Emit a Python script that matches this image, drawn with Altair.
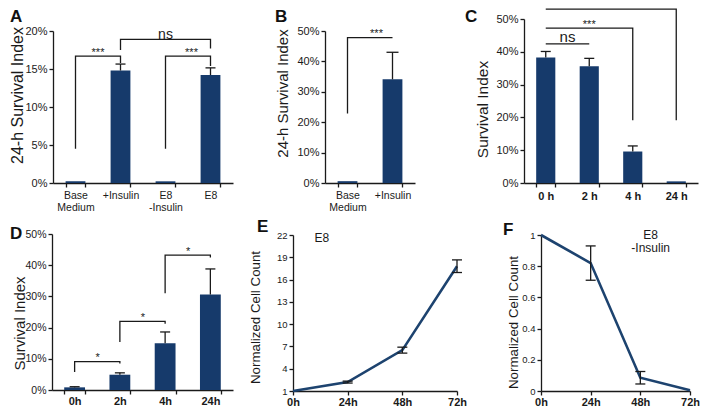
import altair as alt
import pandas as pd

FONT = "Liberation Sans"
NAVY = "#163a6b"
LINE_C = "#1d436f"
INK = "#1a1a1a"
W, H = 693, 400

# ---------------- data ----------------
a_cats = ["Base Medium", "+Insulin", "E8 -Insulin", "E8"]
a_vals = [0.22, 14.8, 0.22, 14.2]
a_errs = [0.0, 0.85, 0.0, 0.95]

b_cats = ["Base Medium", "+Insulin"]
b_vals = [0.6, 34.1]
b_errs = [0.0, 8.9]

c_cats = ["0 h", "2 h", "4 h", "24 h"]
c_vals = [38.3, 35.6, 9.6, 0.5]
c_errs = [1.8, 2.4, 1.7, 0.0]

d_cats = ["0h", "2h", "4h", "24h"]
d_vals = [0.85, 4.9, 15.0, 30.6]
d_errs = [0.2, 0.6, 3.6, 8.2]

hours = [0, 24, 48, 72]
e_vals = [1.0, 2.2, 6.5, 17.8]
e_errs = [0.0, 0.13, 0.4, 0.85]
f_vals = [1.0, 0.82, 0.085, 0.005]
f_errs = [0.0, 0.11, 0.04, 0.0]

# significance brackets (category, y) in drawing order
a_brackets = [
    [("Base Medium", 4.5), ("Base Medium", 16.7), ("+Insulin", 16.7), ("+Insulin", 15.8)],
    [("+Insulin", 17.5), ("+Insulin", 18.9), ("E8", 18.9), ("E8", 17.7)],
    [("E8 -Insulin", 4.5), ("E8 -Insulin", 16.7), ("E8", 16.7), ("E8", 15.4)],
]
a_notes = [("Base Medium", 16.75, "***", 22.5, 11), ("E8 -Insulin", 19.0, "ns", 0, 14),
           ("E8 -Insulin", 16.75, "***", 26, 11)]

b_brackets = [[("Base Medium", 22.9), ("Base Medium", 47.8), ("+Insulin", 47.8)]]
b_notes = [("Base Medium", 47.9, "***", 29, 11)]

c_brackets = [
    [("0 h", 42.4), ("2 h", 42.4)],
    [("0 h", 47.2), ("4 h", 47.2), ("4 h", 19.1)],
    [("0 h", 53.0), ("24 h", 53.0), ("24 h", 19.1)],
]
c_notes = [("0 h", 42.9, "ns", 21.75, 15), ("2 h", 47.3, "***", 0, 11), ("4 h", 53.1, "***", -8, 11)]

d_brackets = [
    [("0h", 5.75), ("0h", 9.1), ("2h", 9.1), ("2h", 8.5)],
    [("2h", 15.4), ("2h", 22.0), ("4h", 22.0), ("4h", 21.2)],
    [("4h", 31.0), ("4h", 43.2), ("24h", 43.2), ("24h", 42.5)],
]
d_notes = [("0h", 9.2, "*", 23, 11), ("2h", 22.1, "*", 23, 11), ("4h", 43.3, "*", 23, 11)]

e_note = (["E8"], [12.7], [21.6])
f_note = (["E8", "-Insulin"], [53, 53], [1.0, 0.918])

letters = ["A", "B", "C", "D", "E", "F"]
letter_x = [2, 267, 457, 2, 249, 495]
letter_y = [14, 14, 14, 231, 224, 227]


def y_axis(xr0, values, expr, title, tx, ty, tsize, lsize):
    return alt.Axis(orient="left", offset=-xr0, values=values, labelExpr=expr, title=title,
                    titleX=tx, titleY=ty, titleAngle=270, titleBaseline="middle", titleAlign="center",
                    titleFontSize=tsize, labelFontSize=lsize, labelPadding=2, grid=False)


def bar_panel(cats, vals, errs, brackets, notes, xr, yr, ydom, yticks, pad, ytitle, tx, ty, tsize,
              xlsize, xlweight, split, cap, lpad, ylsize=11):
    xs = alt.Scale(domain=cats, range=xr, paddingInner=pad, paddingOuter=pad / 2)
    ys = alt.Scale(domain=ydom, range=yr, nice=False, zero=False)
    base = pd.DataFrame({"cat": cats, "v": vals, "e": errs,
                         "hi": [v + e for v, e in zip(vals, errs)]})
    xkw = dict(orient="bottom", offset=yr[0] - H, title=None, tickBand="extent", labelAngle=0,
               labelFontSize=xlsize, labelFontWeight=xlweight, labelPadding=lpad, labelOverlap=False,
               labelLineHeight=12, grid=False)
    if split:
        xkw["labelExpr"] = "split(datum.label, ' ')"
    xa = alt.Axis(**xkw)
    ya = y_axis(xr[0], yticks, "datum.value + '%'", ytitle, tx, ty, tsize, ylsize)

    def X():
        return alt.X("cat:N", scale=xs, axis=xa)

    def Y(f):
        return alt.Y(f, scale=ys, axis=ya)

    bars = alt.Chart(base).mark_bar(color=NAVY).encode(x=X(), y=Y("v:Q"))
    eb = base[base.e > 0]
    rules = alt.Chart(eb).mark_rule(color=INK, strokeWidth=1.3).encode(x=X(), y=Y("v:Q"), y2="hi:Q")
    caps = alt.Chart(eb).mark_tick(color=INK, thickness=1.3, size=cap, opacity=1).encode(x=X(), y=Y("hi:Q"))
    rows = []
    for i, br in enumerate(brackets):
        for k, (c, y) in enumerate(br):
            rows.append({"id": i, "k": k, "cat": c, "v": y})
    brk = alt.Chart(pd.DataFrame(rows)).mark_line(color=INK, strokeWidth=1.3).encode(
        x=X(), y=Y("v:Q"), detail="id:N", order="k:Q")
    layers = [bars, rules, caps, brk]
    for (c, y, t, dx, fs) in notes:
        layers.append(alt.Chart(pd.DataFrame({"cat": [c], "v": [y], "t": [t]})).mark_text(
            dx=dx, fontSize=fs, font=FONT, color=INK, baseline="alphabetic").encode(
            x=X(), y=Y("v:Q"), text="t:N"))
    return alt.layer(*layers)


def line_panel(vals, errs, note, xr, yr, ydom, yticks, yexpr, tx, ty):
    xs = alt.Scale(domain=[0, 72], range=xr, nice=False, zero=False)
    ys = alt.Scale(domain=ydom, range=yr, nice=False, zero=False)
    base = pd.DataFrame({"h": hours, "v": vals, "e": errs,
                         "lo": [v - e for v, e in zip(vals, errs)],
                         "hi": [v + e for v, e in zip(vals, errs)]})
    xa = alt.Axis(orient="bottom", offset=yr[0] - H, title=None, values=hours,
                  labelExpr="datum.value + 'h'", labelFontSize=11, labelFontWeight="bold",
                  labelPadding=1, labelFlush=False, labelOverlap=False, grid=False)
    ya = y_axis(xr[0], yticks, yexpr, "Normalized Cell Count", tx, ty, 13.3, 9.5)

    def X():
        return alt.X("h:Q", scale=xs, axis=xa)

    def Y(f):
        return alt.Y(f, scale=ys, axis=ya)

    line = alt.Chart(base).mark_line(color=LINE_C, strokeWidth=2.6).encode(x=X(), y=Y("v:Q"))
    eb = base[base.e > 0]
    rules = alt.Chart(eb).mark_rule(color=INK, strokeWidth=1.3).encode(x=X(), y=Y("lo:Q"), y2="hi:Q")
    caps_hi = alt.Chart(eb).mark_tick(color=INK, thickness=1.3, size=10, opacity=1,
                                      orient="horizontal").encode(x=X(), y=Y("hi:Q"))
    caps_lo = alt.Chart(eb).mark_tick(color=INK, thickness=1.3, size=10, opacity=1,
                                      orient="horizontal").encode(x=X(), y=Y("lo:Q"))
    nt = alt.Chart(pd.DataFrame({"t": note[0], "h": note[1], "v": note[2]})).mark_text(
        fontSize=12, font=FONT, color=INK, baseline="middle").encode(x=X(), y=Y("v:Q"), text="t:N")
    return alt.layer(line, rules, caps_hi, caps_lo, nt)


pA = bar_panel(a_cats, a_vals, a_errs, a_brackets, a_notes, [45, 225], [175, 23], [0, 20],
               [0, 5, 10, 15, 20], 0.56, "24-h Survival Index", -36, 87, 16, 10.5, "normal", True, 10, 3)
pB = bar_panel(b_cats, b_vals, b_errs, b_brackets, b_notes, [317, 407], [175, 23], [0, 50],
               [0, 10, 20, 30, 40, 50], 0.56, "24-h Survival Index", -43, 85, 15, 10.5, "normal", True, 12, 3)
pC = bar_panel(c_cats, c_vals, c_errs, c_brackets, c_notes, [516, 690], [175, 11], [0, 50],
               [0, 10, 20, 30, 40, 50], 0.56, "Survival Index", -42, 101, 15.5, 11, "bold", False, 10, 3)
pD = bar_panel(d_cats, d_vals, d_errs, d_brackets, d_notes, [44, 225], [382, 226], [0, 50],
               [0, 10, 20, 30, 40, 50], 0.54, "Survival Index", -33, 315, 15, 11, "bold", False, 10, 1,
               ylsize=10.5)
pE = line_panel(e_vals, e_errs, e_note, [285, 449], [383, 227], [1, 22],
                [1, 4, 7, 10, 13, 16, 19, 22], "datum.label", -38, 309)
pF = line_panel(f_vals, f_errs, f_note, [533, 682], [383, 227], [0, 1],
                [0, 0.2, 0.4, 0.6, 0.8, 1], "format(datum.value, '.1~f')", -28, 314)

lett = alt.Chart(pd.DataFrame({"t": letters, "px": letter_x, "py": letter_y})).mark_text(
    font=FONT, fontSize=17, fontWeight="bold", color="#111", align="left", baseline="alphabetic").encode(
    x=alt.X("px:Q", scale=None), y=alt.Y("py:Q", scale=None), text="t:N")

chart = alt.layer(pA, pB, pC, pD, pE, pF, lett).resolve_scale(
    x="independent", y="independent").properties(
    width=W, height=H, padding=0, autosize=alt.AutoSizeParams(type="none")
).configure_view(stroke=None).configure_axis(
    labelFont=FONT, titleFont=FONT, domainColor=INK, tickColor=INK, labelColor=INK, titleColor=INK,
    tickSize=4, domainWidth=1.3, tickWidth=1.3, titleFontWeight="normal", grid=False)

chart.save("out.html", embed_options={"renderer": "svg", "actions": False})
